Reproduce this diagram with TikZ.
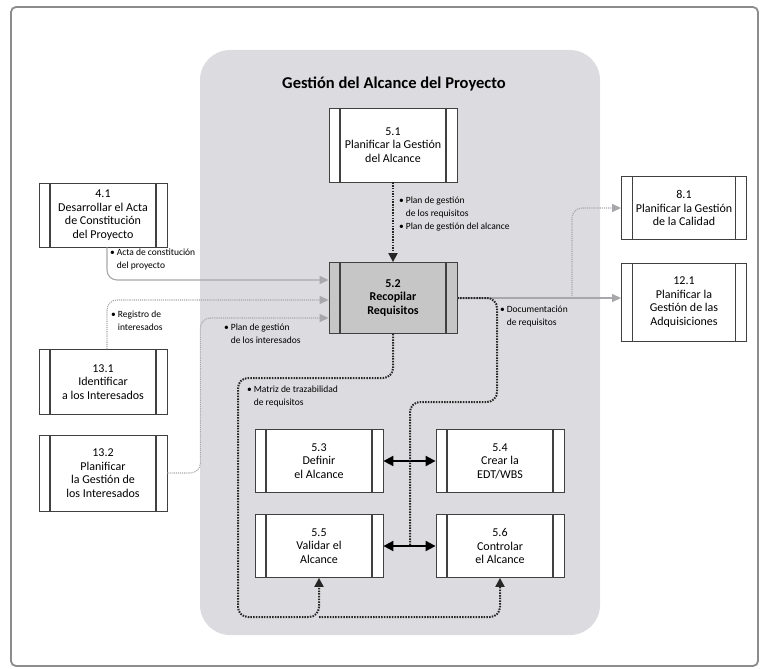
\documentclass[tikz,border=0pt]{standalone}
\usepackage{fontspec}
\setmainfont{Carlito}
\usepackage{tikz}
\usetikzlibrary{positioning,arrows.meta}
\definecolor{panel}{HTML}{DCDCE0}
\definecolor{frame}{HTML}{8C8C8C}
\definecolor{feedgray}{HTML}{A8A8AC}
\newcommand{\bul}{\makebox[0.7em][l]{\textbullet}}
\newcommand{\ind}{\hspace*{0.7em}}

\begin{document}
\begin{tikzpicture}[x=1pt,y=-1pt,every node/.style={font=\fontsize{12}{13.5}\selectfont}]
    \tikzstyle{p}=[rectangle,draw=black!75,fill=white,line width=0.8pt,minimum width=128pt,inner sep=0pt,align=center,
       path picture={\draw[black!75,line width=1.2pt]
          ([xshift=11pt]path picture bounding box.north west) -- ([xshift=11pt]path picture bounding box.south west)
          ([xshift=-11pt]path picture bounding box.north east) -- ([xshift=-11pt]path picture bounding box.south east);}];
    \tikzstyle{lbl}=[anchor=north west,align=left,inner sep=0pt,font=\fontsize{9.5}{13}\selectfont];
    \tikzstyle{dat}=[black!85,line width=2pt,dash pattern=on 1.5pt off 1.2pt,rounded corners=10pt,-{Triangle[length=9pt,width=9pt]}];
    \tikzstyle{ext}=[feedgray,line width=1.1pt,rounded corners=10pt,-{Triangle[length=9pt,width=8pt]}];
    \tikzstyle{two}=[black,line width=2pt,{Triangle[length=10pt,width=10pt]}-{Triangle[length=10pt,width=10pt]}];

    \useasboundingbox (0,0) rectangle (761,669);
    \draw[frame,line width=1.8pt,rounded corners=5pt] (11,7) rectangle (758,666);
    \fill[panel,rounded corners=30pt] (200,50) rectangle (600,635);
    \node[font=\fontsize{16.5}{18}\selectfont\bfseries] (title) at (394,84) {Gestión del Alcance del Proyecto};

    % processes
    \node[p,minimum height=64pt] (n41) at (103,215) {4.1\\Desarrollar el Acta\\de Constitución\\del Proyecto};
    \node[p,minimum height=74pt] (n51) at (393,145) {5.1\\Planificar la Gestión\\del Alcance};
    \node[p,minimum height=71pt,fill=gray!45,font=\fontsize{12}{13.5}\selectfont\bfseries] (n52) at (393,298) {5.2\\Recopilar\\Requisitos};
    \node[p,minimum width=125pt,minimum height=63pt] (n81) at (684,208) {8.1\\Planificar la Gestión\\de la Calidad};
    \node[p,minimum width=125pt,minimum height=78pt] (n121) at (684,302) {12.1\\Planificar la\\Gestión de las\\Adquisiciones};
    \node[p,minimum height=65pt] (n131) at (103,382) {13.1\\Identificar\\a los Interesados};
    \node[p,minimum height=76pt] (n132) at (103,473) {13.2\\Planificar\\la Gestión de\\los Interesados};
    \node[p,minimum height=63pt] (n53) at (319,461) {5.3\\Definir\\el Alcance};
    \node[p,minimum height=63pt] (n54) at (500,461) {5.4\\Crear la\\EDT/WBS};
    \node[p,minimum height=63pt] (n55) at (319,546) {5.5\\Validar el\\Alcance};
    \node[p,minimum height=63pt] (n56) at (500,546) {5.6\\Controlar\\el Alcance};

    % inputs
    \draw[ext] ([xshift=4pt]n41.south) |- ([yshift=18pt]n52.west);
    \draw[ext,densely dotted] ([xshift=4pt]n131.north) |- ([yshift=-2pt]n52.west);
    \draw[ext,densely dotted] (n132.east) -- ++(33,0) |- ([yshift=-20pt]n52.west);
    \draw[dat] (n51.south) -- (n52.north);

    % outputs
    \coordinate (r1) at (572,298);
    \draw[ext] (n52.east) -- (n52.east -| n121.west);
    \draw[ext,densely dotted] (r1) |- (n81.west);
    \draw[two] (n53) -- (n54);
    \draw[two] (n55) -- (n56);
    \coordinate (d1) at (497,402);
    \coordinate (d2) at (410,546);
    \draw[dat,-] (n52.east) -| (d1) -| (d2);
    \coordinate (m1) at (238,378);
    \coordinate (m2) at (238,617);
    \draw[dat] (n52.south) |- (m1) -- (m2) -| (n55.south);
    \draw[dat] (n55.south |- m2) -| (n56.south);

    % labels
    \node[lbl] (l41) at (110,249) {\bul Acta de constitución\\\ind del proyecto};
    \node[lbl] (l131) at (111,311) {\bul Registro de\\\ind interesados};
    \node[lbl] (l132) at (224,324) {\bul Plan de gestión\\\ind de los interesados};
    \node[lbl] (l51) at (399,197) {\bul Plan de gestión\\\ind de los requisitos\\\bul Plan de gestión del alcance};
    \node[lbl] (l52) at (500,306) {\bul Documentación\\\ind de requisitos};
    \node[lbl] (l53) at (247,386) {\bul Matriz de trazabilidad\\\ind de requisitos};
\end{tikzpicture}
\end{document}
